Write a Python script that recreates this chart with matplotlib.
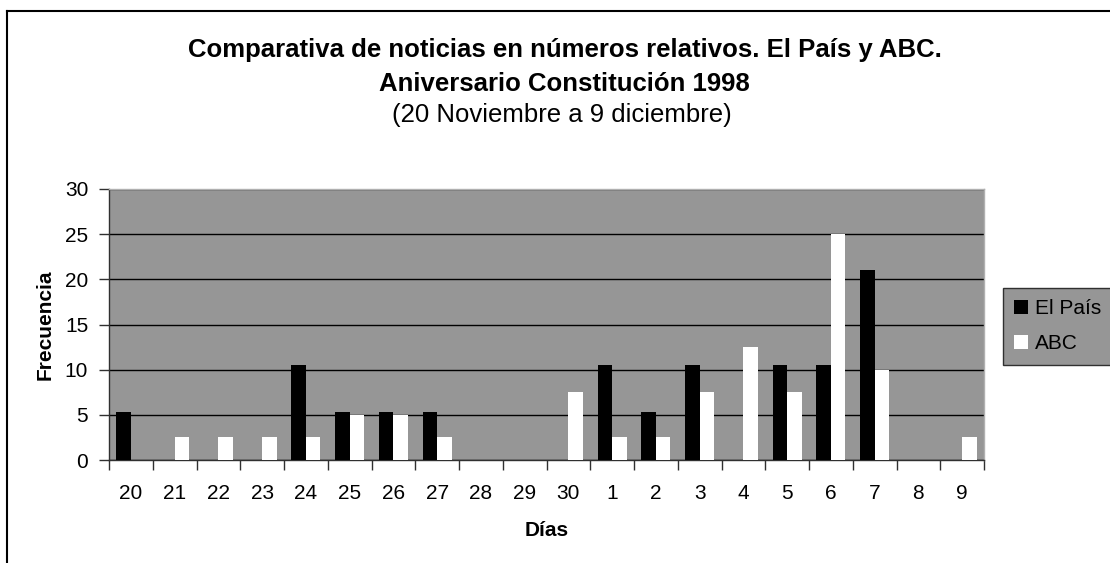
import matplotlib
matplotlib.use("Agg")
import matplotlib.pyplot as plt
import numpy as np

plt.rcParams['font.family'] = ['Liberation Sans', 'DejaVu Sans']

dias = ["20", "21", "22", "23", "24", "25", "26", "27", "28", "29", "30",
        "1", "2", "3", "4", "5", "6", "7", "8", "9"]
el_pais = [5.26, 0, 0, 0, 10.53, 5.26, 5.26, 5.26, 0, 0, 0,
           10.53, 5.26, 10.53, 0, 10.53, 10.53, 21.05, 0, 0]
abc = [0, 2.5, 2.5, 2.5, 2.5, 5, 5, 2.5, 0, 0, 7.5,
       2.5, 2.5, 7.5, 12.5, 7.5, 25, 10, 0, 2.5]
series_names = ["El País", "ABC"]
title1 = "Comparativa de noticias en números relativos. El País y ABC."
title2 = "Aniversario Constitución 1998"
title3 = "(20 Noviembre a 9 diciembre)"

W, H = 1110, 563
fig = plt.figure(figsize=(W / 100, H / 100), dpi=100)
fig.patch.set_facecolor('white')

def fx(px):
    return px / W

def fy(py):
    return 1 - py / H

ax = fig.add_axes([fx(109), fy(460), (984 - 109) / W, (460 - 189) / H])
ax.set_facecolor('#969696')

x = np.arange(len(dias))
bw = 0.33
b1 = ax.bar(x - bw / 2, el_pais, bw, color='black', label=series_names[0], zorder=3)
b2 = ax.bar(x + bw / 2, abc, bw, color='white', label=series_names[1], zorder=3)

ax.set_xlim(-0.5, len(dias) - 0.5)
ax.set_ylim(0, 30)
ax.set_yticks(range(0, 31, 5))
ax.set_xticks(x)
ax.set_xticklabels(dias)
ax.set_xticks(np.arange(-0.5, len(dias), 1), minor=True)
ax.tick_params(axis='x', which='major', length=0, pad=17, labelsize=15)
ax.tick_params(axis='x', which='minor', length=7, width=1, direction='out', color='#303030')
ax.tick_params(axis='y', length=7, width=1, direction='out', pad=8, labelsize=15, color='#303030')
ax.yaxis.grid(True, color='black', linewidth=1, zorder=1)
ax.set_axisbelow(True)

for s in ['left', 'bottom']:
    ax.spines[s].set_color('#303030')
    ax.spines[s].set_linewidth(1)
for s in ['top', 'right']:
    ax.spines[s].set_color('#b0b0b0')
    ax.spines[s].set_linewidth(1)

ax.set_xlabel("Días", fontsize=15, fontweight='bold')
ax.xaxis.set_label_coords(0.5, -(531 - 460) / (460 - 189), transform=ax.transAxes)
ax.xaxis.label.set_va('center')
ax.set_ylabel("Frecuencia", fontsize=15, fontweight='bold')
ax.yaxis.set_label_coords(-(109 - 45) / (984 - 109), 0.5, transform=ax.transAxes)
ax.yaxis.label.set_va('center')

fig.text(fx(565), fy(56.5), title1, fontsize=18.5, fontweight='bold', ha='center', va='baseline')
fig.text(fx(564), fy(91), title2, fontsize=18.5, fontweight='bold', ha='center', va='baseline')
fig.text(fx(562), fy(122), title3, fontsize=18.5, ha='center', va='baseline')

leg = fig.legend(handles=[b1, b2], labels=series_names, loc='upper left',
                 bbox_to_anchor=(fx(1003), fy(288)), bbox_transform=fig.transFigure,
                 borderaxespad=0, fontsize=15, frameon=True, fancybox=False,
                 facecolor='#969696', edgecolor='#303030', framealpha=1,
                 handlelength=0.65, handleheight=0.65, handletextpad=0.35,
                 borderpad=0.55, labelspacing=0.75)
leg.get_frame().set_linewidth(1)

# chart border (left and top visible)
fig.add_artist(plt.Line2D([fx(7), fx(7)], [fy(11), 0], transform=fig.transFigure,
                          color='black', linewidth=1.5))
fig.add_artist(plt.Line2D([fx(7), 1], [fy(11), fy(11)], transform=fig.transFigure,
                          color='black', linewidth=1.5))

fig.savefig("out.png", dpi=100)
